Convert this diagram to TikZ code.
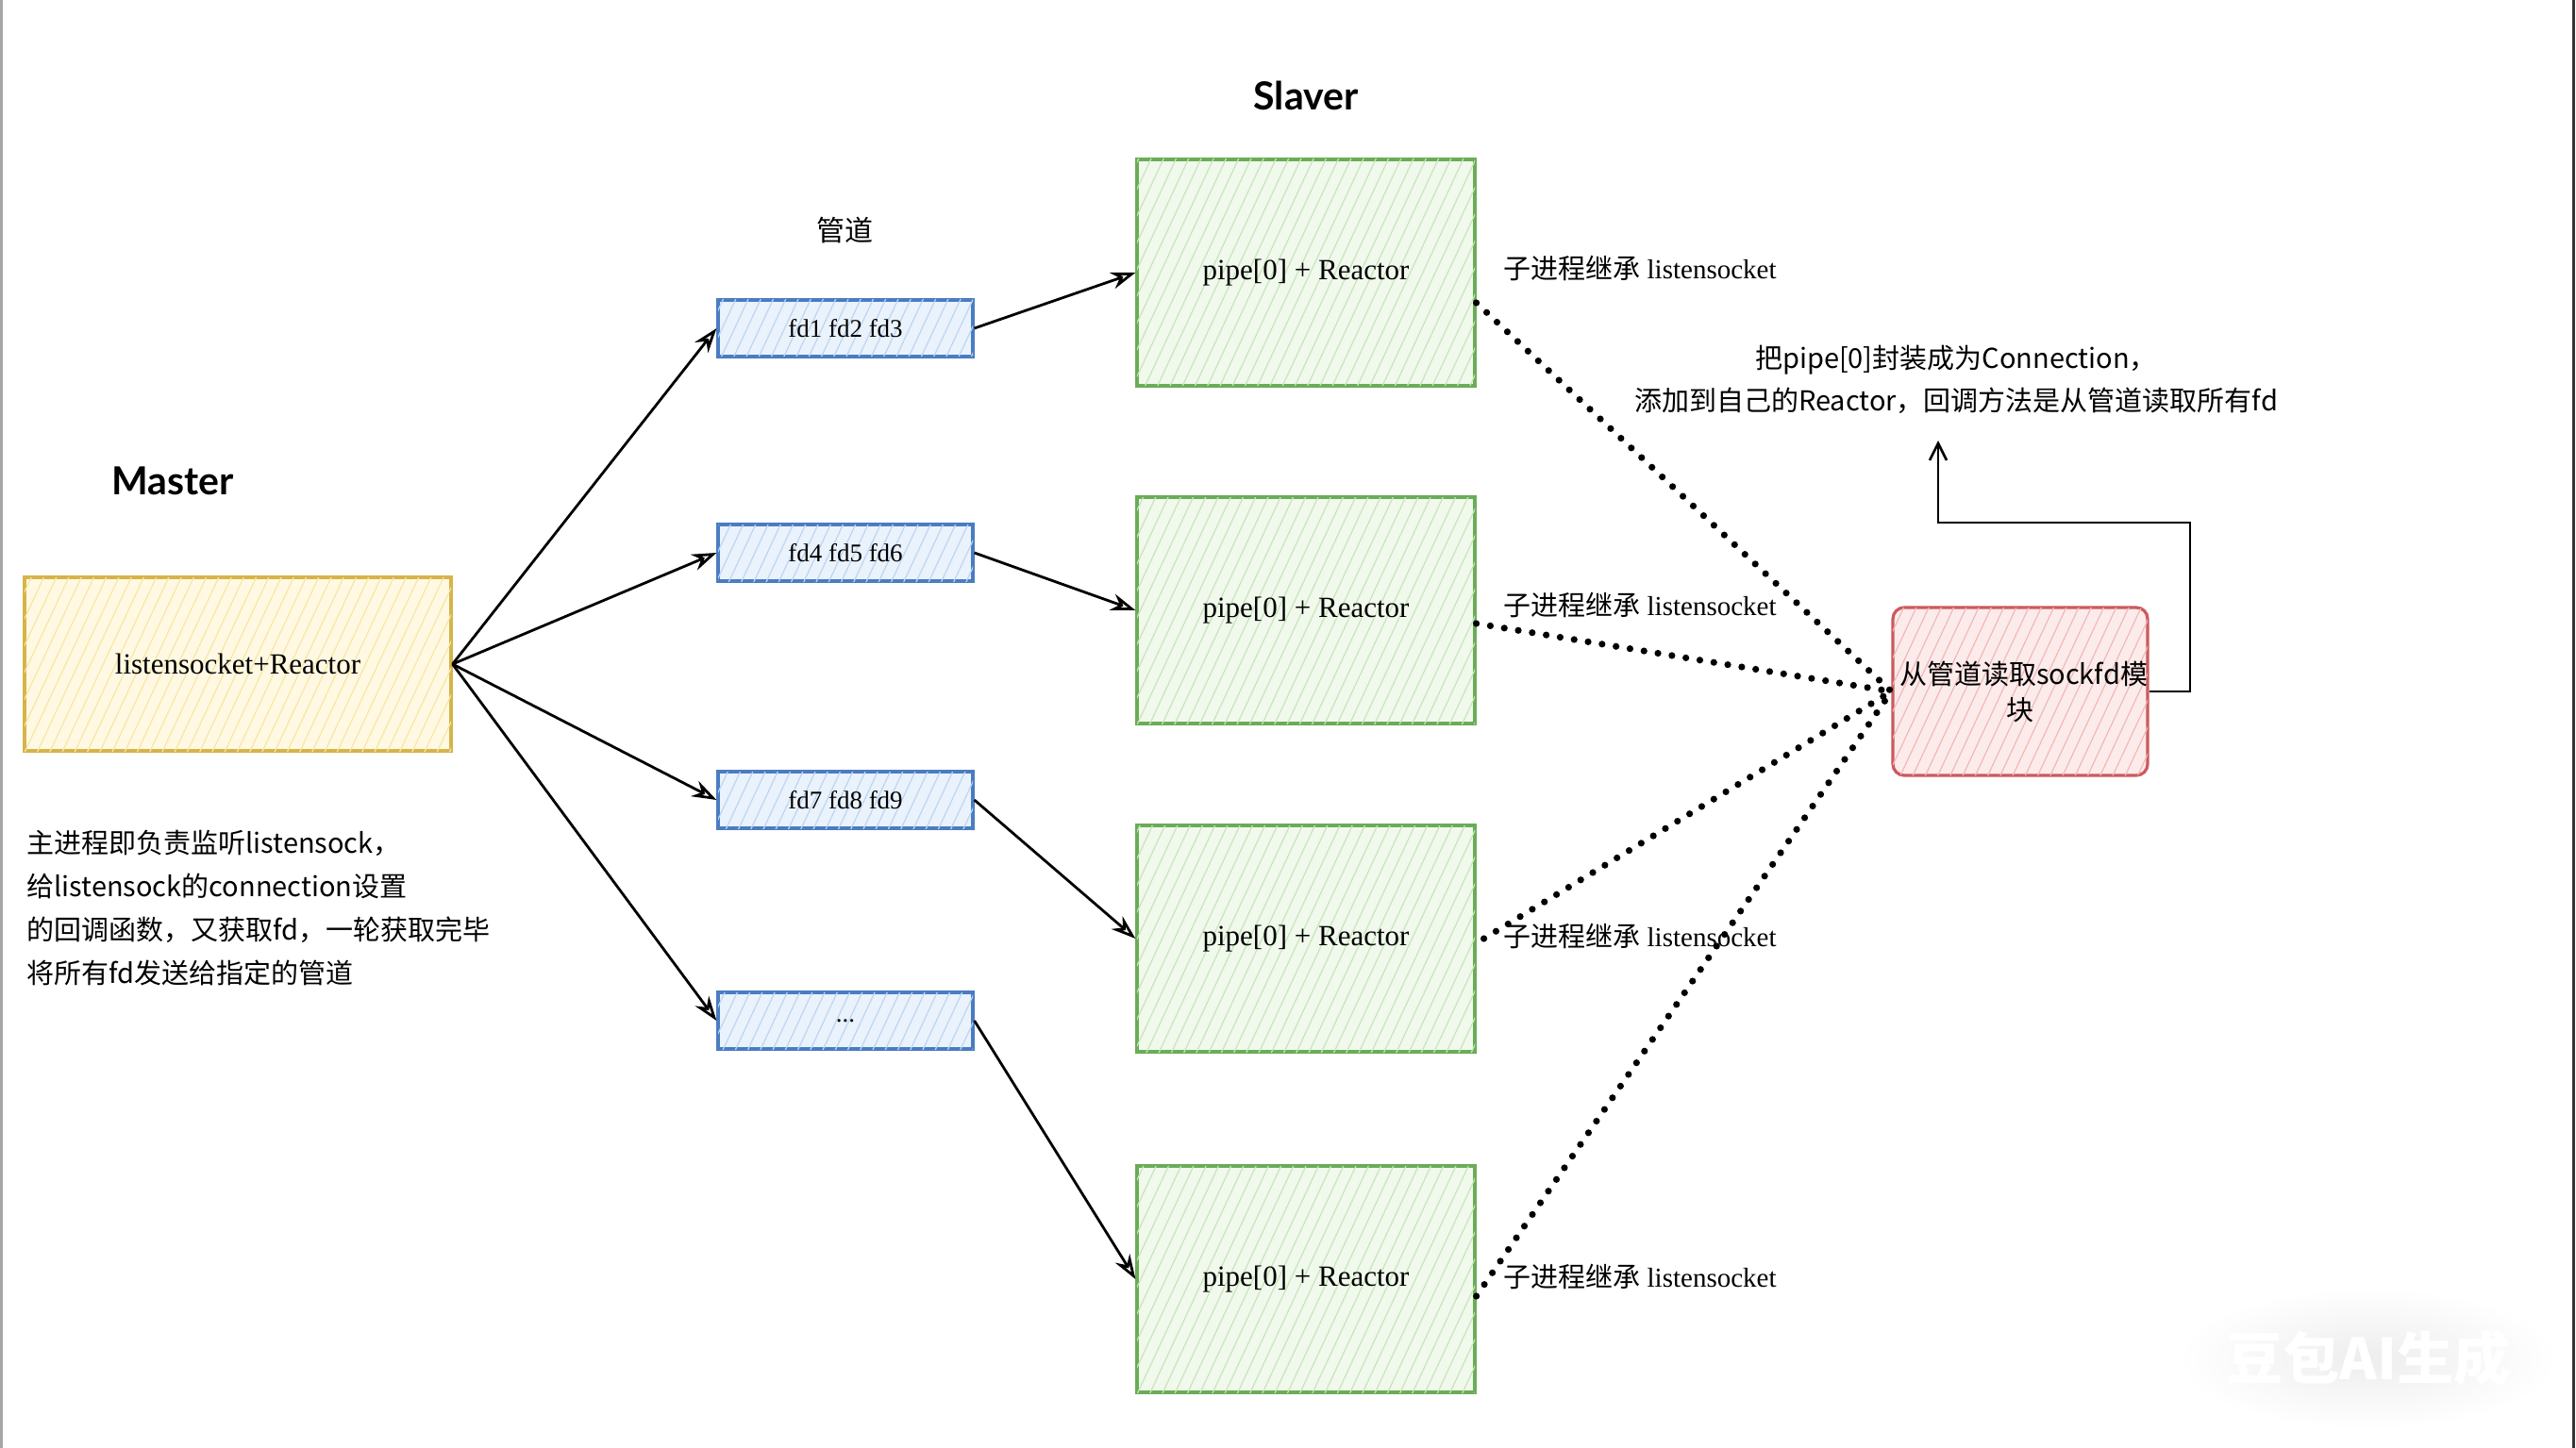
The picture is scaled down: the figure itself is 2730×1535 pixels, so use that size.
\documentclass[tikz,border=0pt]{standalone}
\usepackage{fontspec}
\setmainfont{Liberation Serif}
\usetikzlibrary{arrows.meta,patterns.meta,calc}
\newfontfamily\cjk{Noto Sans CJK SC}
\newfontfamily\titlefont{Lato}
\newcommand{\zhs}[1]{{\cjk #1}}
\definecolor{ystroke}{HTML}{D6B44A}
\definecolor{yfill}{HTML}{FFF9E3}
\definecolor{yhatch}{HTML}{F8E6A4}
\definecolor{bstroke}{HTML}{4A7CC2}
\definecolor{bfill}{HTML}{EAF2FC}
\definecolor{bhatch}{HTML}{BCD5F2}
\definecolor{gstroke}{HTML}{6AAC57}
\definecolor{gfill}{HTML}{F0F9EC}
\definecolor{ghatch}{HTML}{C7E5BB}
\definecolor{rstroke}{HTML}{CC5A5E}
\definecolor{rfill}{HTML}{FCEBEB}
\definecolor{rhatch}{HTML}{F2B8B8}
\tikzset{
  hatch/.style={postaction={pattern={Lines[angle=65,distance=6pt,line width=0.6pt]},pattern color=#1}},
  ybox/.style={draw=ystroke, line width=1.6pt, fill=yfill, hatch=yhatch,
    minimum width=226pt, minimum height=92pt, font=\fontsize{15.5pt}{17pt}\selectfont},
  bbox/.style={draw=bstroke, line width=1.6pt, fill=bfill, hatch=bhatch,
    minimum width=135pt, minimum height=30pt, font=\fontsize{13.5pt}{15pt}\selectfont},
  gbox/.style={draw=gstroke, line width=1.6pt, fill=gfill, hatch=ghatch,
    minimum width=179pt, minimum height=120pt, font=\fontsize{15.5pt}{17pt}\selectfont},
  rbox/.style={draw=rstroke, line width=1.6pt, fill=rfill, hatch=rhatch, rounded corners=6pt,
    minimum width=135pt, minimum height=89pt, text width=128pt, align=center, inner sep=1pt,
    font=\cjk\fontsize{14.5pt}{19pt}\selectfont},
  title/.style={font=\titlefont\bfseries\fontsize{20.5pt}{24pt}\selectfont},
  zhlabel/.style={font=\cjk\fontsize{15pt}{18pt}\selectfont},
  inh/.style={font=\fontsize{14.5pt}{16pt}\selectfont, inner sep=0pt},
  desc/.style={font=\cjk\fontsize{14.5pt}{23pt}\selectfont, align=left, inner sep=0pt},
  conn/.style={font=\cjk\fontsize{14.5pt}{22.5pt}\selectfont, align=center, inner sep=0pt},
  arr/.style={line width=1.4pt, -{Stealth[open,length=13pt,width=9pt]}},
  dots/.style={line width=3.6pt, dash pattern=on 0pt off 7.5pt, line cap=round}
}
\begin{document}
\begin{tikzpicture}[x=0.5pt,y=-0.5pt]
\useasboundingbox (0,0) rectangle (2730,1535);
\fill[white] (0,0) rectangle (2730,1535);
\draw[black!35, line width=1.5pt] (1,0) -- (1,1535);
\draw[black!80, line width=1.5pt] (2727,0) -- (2727,1535);

% Master
\node[title] (mastertitle) at (183,510) {Master};
\node[ybox] (master) at (252,704) {listensocket+Reactor};
\node[desc, anchor=north west] (desc) at (28,880) {主进程即负责监听listensock，\\给listensock的connection设置\\的回调函数，又获取fd，一轮获取完毕\\将所有fd发送给指定的管道};

% pipes
\node[zhlabel] (pipelabel) at (895,244) {管道};
\node[bbox] (fd1) at (896,348) {fd1 fd2 fd3};
\node[bbox] (fd4) at (896,586) {fd4 fd5 fd6};
\node[bbox] (fd7) at (896,848) {fd7 fd8 fd9};
\node[bbox] (fd10) at (896,1082) {...};

% slaves
\node[title] (slavertitle) at (1384,101) {Slaver};
\node[gbox] (s1) at (1384,289) {pipe[0] + Reactor};
\node[gbox] (s2) at (1384,647) {pipe[0] + Reactor};
\node[gbox] (s3) at (1384,995) {pipe[0] + Reactor};
\node[gbox] (s4) at (1384,1356) {pipe[0] + Reactor};

\node[inh, anchor=west] (i1) at (1593,284) {\zhs{子进程继承} listensocket};
\node[inh, anchor=west] (i2) at (1593,641) {\zhs{子进程继承} listensocket};
\node[inh, anchor=west] (i3) at (1593,992) {\zhs{子进程继承} listensocket};
\node[inh, anchor=west] (i4) at (1593,1353) {\zhs{子进程继承} listensocket};

% reader module
\node[rbox] (red) at (2141,733) {从管道读取sockfd模\\块};
\node[conn] (conn) at (2073,402) {把pipe[0]封装成为Connection，\\添加到自己的Reactor，回调方法是从管道读取所有fd};

% connectors master -> pipes
\foreach \f in {fd1,fd4,fd7,fd10} \draw[arr] (master.east) -- (\f.west);
% pipes -> slaves
\draw[arr] (fd1.east) -- (s1.west);
\draw[arr] (fd4.east) -- (s2.west);
\draw[arr] (fd7.east) -- (s3.west);
\draw[arr] (fd10.east) -- (s4.west);

% dotted
\draw[dots] ([yshift=-16pt]s1.east) -- (red.west);
\draw[dots] ([yshift=-7pt]s2.east) -- (red.west);
\draw[dots] ([xshift=4pt]s3.east) -- (red.west);
\draw[dots] ([yshift=-9pt]s4.east) -- (red.west);

% feedback arrow
\coordinate (turn) at (2321,554);
\coordinate (connarrow) at (2054,467);
\draw[line width=1.3pt, -{Straight Barb[length=9pt,width=9pt]}] (red.east) -| (turn) -| (connarrow);

% watermark
\shade[inner color=black!7, outer color=white] (2510,1440) ellipse [x radius=200, y radius=75];
\node[font=\cjk\bfseries\fontsize{30pt}{30pt}\selectfont, text=white] (wm) at (2510,1440) {豆包AI生成};
\end{tikzpicture}
\end{document}
